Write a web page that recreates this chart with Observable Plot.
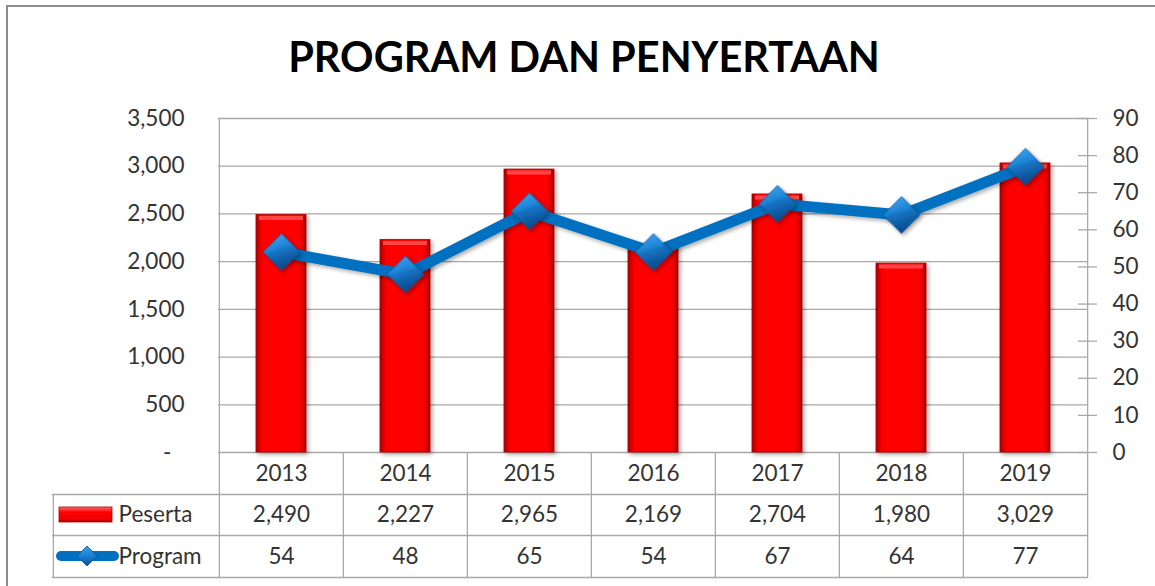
<!DOCTYPE html>
<html>
<head>
<meta charset="utf-8">
<script src="https://cdn.jsdelivr.net/npm/d3@7"></script>
<script src="https://cdn.jsdelivr.net/npm/@observablehq/plot@0.6"></script>
<style>
  html, body { margin: 0; padding: 0; background: #fff; overflow: hidden; }
  #page { position: relative; width: 1155px; height: 586px; overflow: hidden; background: #fff;
          font-family: Lato, "Open Sans", sans-serif; color: #333; }
  #frame { position: absolute; left: 6px; top: 5px; width: 1250px; height: 700px;
           border: 2px solid #8c8c8c; box-sizing: border-box; }
  #title { position: absolute; left: 0; top: 36px; width: 1168px; text-align: center;
           font-family: Lato, "Open Sans", sans-serif; font-weight: bold; font-size: 41.5px;
           line-height: 1; color: #000; white-space: nowrap; }
  #chart { position: absolute; left: 0; top: 100px; width: 1155px; height: 486px; }
  #chart svg { position: absolute; left: 0; top: 0; overflow: visible; }
  #legend { position: absolute; left: 0; top: 0; overflow: visible; }
</style>
</head>
<body>
<div id="page">
  <div id="frame"></div>
  <div id="title">PROGRAM DAN PENYERTAAN</div>
  <div id="chart"></div>
  <svg id="legend" width="1155" height="586">
    <defs>
      <linearGradient id="lgBarH" x1="0" y1="0" x2="0" y2="1">
        <stop offset="0" stop-color="#ff6a6a"/>
        <stop offset="0.35" stop-color="#ff0000"/>
        <stop offset="0.8" stop-color="#f00000"/>
        <stop offset="1" stop-color="#a00000"/>
      </linearGradient>
      <linearGradient id="lgDiam" x1="0" y1="0" x2="0" y2="1">
        <stop offset="0" stop-color="#3aa0ee"/>
        <stop offset="0.5" stop-color="#1a7fd2"/>
        <stop offset="1" stop-color="#0a4f94"/>
      </linearGradient>
    </defs>
    <rect x="59" y="507" width="53" height="15" fill="url(#lgBarH)" stroke="#b00000" stroke-width="0.8"/>
    <line x1="61" y1="556" x2="114" y2="556" stroke="#0070c0" stroke-width="10" stroke-linecap="round"/>
    <path d="M87,546 L97,556 L87,566 L77,556 Z" fill="url(#lgDiam)" stroke="#0a4f94" stroke-width="0.8"/>
  </svg>
</div>
<script>
// ---- data ----
const years = ["2013", "2014", "2015", "2016", "2017", "2018", "2019"];
const peserta = [2490, 2227, 2965, 2169, 2704, 1980, 3029];
const program = [54, 48, 65, 54, 67, 64, 77];
const seriesNames = ["Peserta", "Program"];
const leftTicks = [0, 500, 1000, 1500, 2000, 2500, 3000, 3500];
const rightTicks = [0, 10, 20, 30, 40, 50, 60, 70, 80, 90];

const rows = years.map((year, i) => ({year, peserta: peserta[i], program: program[i]}));

// ---- layout ----
const W = 1155, H = 486;
const mTop = 18, mBottom = 134, mLeft = 218, mRight = 67;
const frameH = H - mTop - mBottom;           // 334
const step = (W - mLeft - mRight) / years.length;
const tableExt = 125;                        // table below plot area
const labelCol = 166;                        // width of label column
const gridColor = "#a9a9a9";
const txt = "#333";
const fs = 22.5;
const fmt = d3.format(",");

const xScale = {type: "band", domain: years, paddingInner: 0.6, paddingOuter: 0.3, axis: null};
const baseStyle = {fontFamily: "Lato, 'Open Sans', sans-serif", fontSize: fs + "px", color: txt,
                   background: "transparent", overflow: "visible"};
const cellText = {frameAnchor: "bottom", lineAnchor: "middle", fontSize: fs, fill: txt};

const plot1 = Plot.plot({
  width: W, height: H,
  marginTop: mTop, marginBottom: mBottom, marginLeft: mLeft, marginRight: mRight,
  style: baseStyle,
  x: xScale,
  y: {domain: [0, 3500], axis: null},
  marks: [
    Plot.ruleY(leftTicks, {stroke: gridColor, strokeWidth: 1.3}),
    Plot.axisY({ticks: leftTicks, tickSize: 0, tickPadding: 34, label: null, fontSize: fs,
                tickFormat: d => d === 0 ? "-\u2007" : fmt(d)}),
    // table horizontal lines
    Plot.ruleY([0], {dy: 42, insetLeft: -labelCol, stroke: gridColor, strokeWidth: 1.3}),
    Plot.ruleY([0], {dy: 83, insetLeft: -labelCol, stroke: gridColor, strokeWidth: 1.3}),
    Plot.ruleY([0], {dy: tableExt, insetLeft: -labelCol, stroke: gridColor, strokeWidth: 1.3}),
    // table vertical lines
    Plot.ruleX(years.slice(1), {x: d => d, dx: -step / 2, insetTop: frameH, insetBottom: -tableExt, stroke: gridColor, strokeWidth: 1.3}),
    Plot.ruleX(years.slice(0, 1), {x: d => d, dx: -step / 2, insetBottom: -tableExt, stroke: gridColor, strokeWidth: 1.3}),
    Plot.ruleX(years.slice(-1), {x: d => d, dx: step / 2, insetBottom: -tableExt, stroke: gridColor, strokeWidth: 1.3}),
    Plot.ruleX(years.slice(0, 1), {x: d => d, dx: -step / 2 - labelCol, insetTop: frameH + 42, insetBottom: -tableExt, stroke: gridColor, strokeWidth: 1.3}),
    // bars
    Plot.barY(rows, {x: "year", y: "peserta", fill: "url(#barGrad)", stroke: "#b00000", strokeWidth: 0.8}),
    Plot.tickY(rows, {x: "year", y: "peserta", dy: 3, stroke: "#ff4646", strokeWidth: 4, insetLeft: 3, insetRight: 3}),
    // data table text
    Plot.text(years, {x: d => d, text: d => d, dy: 21, ...cellText}),
    Plot.text(rows, {x: "year", text: d => fmt(d.peserta), dy: 62, ...cellText}),
    Plot.text(rows, {x: "year", text: d => fmt(d.program), dy: 104, ...cellText}),
    Plot.text(seriesNames.slice(0, 1), {text: d => d, frameAnchor: "bottom-left", lineAnchor: "middle",
                                        dx: -100, dy: 62, textAnchor: "start", fontSize: fs, fill: txt}),
    Plot.text(seriesNames.slice(1, 2), {text: d => d, frameAnchor: "bottom-left", lineAnchor: "middle",
                                        dx: -100, dy: 104, textAnchor: "start", fontSize: fs, fill: txt})
  ]
});

const plot2 = Plot.plot({
  width: W, height: H,
  marginTop: mTop, marginBottom: mBottom, marginLeft: mLeft, marginRight: mRight,
  style: baseStyle,
  x: xScale,
  y: {domain: [0, 90], axis: null},
  marks: [
    Plot.ruleY(rightTicks, {insetLeft: W - mLeft - mRight - 10, insetRight: -9, stroke: gridColor, strokeWidth: 1.3}),
    Plot.axisY({anchor: "right", ticks: rightTicks, tickSize: 0, tickPadding: 24, label: null, fontSize: fs,
                textAnchor: "start"}),
    Plot.line(rows, {x: "year", y: "program", stroke: "#0070c0", strokeWidth: 11, strokeLinejoin: "round"}),
    Plot.dot(rows, {x: "year", y: "program", symbol: "diamond2", r: 16.6, fill: "url(#diamGrad)",
                    stroke: "#0b5596", strokeWidth: 0.8})
  ]
});

function defs(svg) {
  const d = d3.select(svg).insert("defs", ":first-child");
  const bg = d.append("linearGradient").attr("id", "barGrad").attr("x1", 0).attr("y1", 0).attr("x2", 1).attr("y2", 0);
  [[0, "#9c0000"], [0.07, "#e00000"], [0.15, "#ff0000"], [0.85, "#ff0000"], [0.93, "#e00000"], [1, "#9c0000"]]
    .forEach(([o, c]) => bg.append("stop").attr("offset", o).attr("stop-color", c));
  const dg = d.append("linearGradient").attr("id", "diamGrad").attr("x1", 0).attr("y1", 0).attr("x2", 0.3).attr("y2", 1);
  [[0, "#4aa8f0"], [0.45, "#1f86d8"], [0.55, "#1673c2"], [1, "#0a4a8c"]]
    .forEach(([o, c]) => dg.append("stop").attr("offset", o).attr("stop-color", c));
  const f = d.append("filter").attr("id", "shadow").attr("x", "-30%").attr("y", "-30%").attr("width", "160%").attr("height", "160%");
  f.append("feDropShadow").attr("dx", 2).attr("dy", 2).attr("stdDeviation", 2).attr("flood-color", "#000").attr("flood-opacity", 0.35);
}
defs(plot1);
defs(plot2);
d3.select(plot1).selectAll("g[aria-label='bar']").attr("filter", "url(#shadow)");
d3.select(plot2).selectAll("g[aria-label='dot']").attr("filter", "url(#shadow)");
d3.select(plot2).selectAll("g[aria-label='line']").attr("filter", "url(#shadow)");

document.getElementById("chart").append(plot1, plot2);
</script>
</body>
</html>
